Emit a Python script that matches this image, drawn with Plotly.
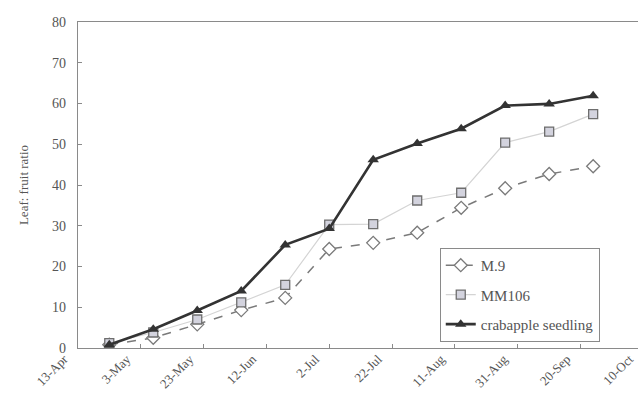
import plotly.graph_objects as go

dates = ["2009-04-23", "2009-05-07", "2009-05-21", "2009-06-04", "2009-06-18", "2009-07-02",
         "2009-07-16", "2009-07-30", "2009-08-13", "2009-08-27", "2009-09-10", "2009-09-24"]
m9 = [0.8, 2.5, 5.8, 9.3, 12.3, 24.3, 25.8, 28.3, 34.4, 39.2, 42.7, 44.6]
mm106 = [1.2, 3.8, 7.0, 11.2, 15.5, 30.3, 30.4, 36.2, 38.1, 50.4, 53.1, 57.4]
crab = [0.8, 4.6, 9.2, 14.0, 25.3, 29.3, 46.2, 50.2, 53.8, 59.5, 59.9, 61.9]

tick_dates = ["2009-04-13", "2009-05-03", "2009-05-23", "2009-06-12", "2009-07-02",
              "2009-07-22", "2009-08-11", "2009-08-31", "2009-09-20", "2009-10-10"]
tick_labels = ["13-Apr", "3-May", "23-May", "12-Jun", "2-Jul", "22-Jul", "11-Aug",
               "31-Aug", "20-Sep", "10-Oct"]

FONT = "Liberation Serif"
TXT = "#555555"
AX = "#8a8a8a"

W = 650
L = 60
PW = W - L
x_range = ["2009-04-13", "2009-10-10 12:00"]

fig = go.Figure()
fig.add_trace(go.Scatter(
    x=dates, y=m9, name="M.9", mode="lines+markers", legendgroup="a",
    line=dict(color="#7a7a7a", width=1.5, dash="dash"),
    marker=dict(symbol="diamond", size=10, color="white", line=dict(color="#7a7a7a", width=1.3)),
))
fig.add_trace(go.Scatter(
    x=dates, y=mm106, name="MM106", mode="lines+markers", legendgroup="b",
    line=dict(color="#d4d4d4", width=1.2),
    marker=dict(symbol="square", size=9, color="#d3d3de", line=dict(color="#6e6e6e", width=1.3)),
))
fig.add_trace(go.Scatter(
    x=dates, y=crab, name="crabapple seedling", mode="lines+markers", legendgroup="c",
    line=dict(color="#333333", width=2.6),
    marker=dict(symbol="triangle-up", size=10, color="#333333"),
))
# carrier for the tick-label axis (invisible)
fig.add_trace(go.Scatter(
    x=tick_dates, y=[0] * len(tick_dates), xaxis="x2", yaxis="y",
    mode="markers", marker=dict(opacity=0, size=1), showlegend=False, hoverinfo="skip",
))

fig.update_layout(
    width=W, height=401,
    margin=dict(l=L, r=0, t=22, b=53),
    paper_bgcolor="white", plot_bgcolor="rgba(0,0,0,0)",
    font=dict(family=FONT, color=TXT, size=13),
    showlegend=True,
    legend=dict(
        x=(443 - L) / PW, y=0.307, xanchor="left", yanchor="top",
        bordercolor="#8a8a8a", borderwidth=1, bgcolor="white",
        font=dict(family=FONT, size=15, color="#555555"),
        traceorder="grouped", tracegroupgap=7,
    ),
    xaxis=dict(
        type="date", range=x_range, domain=[18 / PW, 1], anchor="y",
        tickvals=tick_dates, showticklabels=False,
        ticks="inside", ticklen=4, tickcolor=AX,
        showline=True, linecolor=AX, linewidth=1.3, mirror=True,
        showgrid=False, zeroline=False,
    ),
    xaxis2=dict(
        type="date", range=x_range, domain=[4 / PW, 1 - 14 / PW],
        anchor="y", side="bottom",
        tickvals=tick_dates, ticktext=tick_labels, tickangle=-45,
        ticks="", showline=False, showgrid=False, zeroline=False,
        ticklabeloverflow="allow",
        tickfont=dict(family=FONT, size=13, color=TXT),
    ),
    yaxis=dict(
        range=[0, 80], dtick=10, anchor="x",
        ticks="inside", ticklen=4, tickcolor=AX,
        showline=True, linecolor=AX, linewidth=1.3,
        showgrid=False, zeroline=False,
        ticklabelstandoff=8,
        tickfont=dict(family=FONT, size=14, color=TXT),
        title=dict(text="Leaf: fruit ratio", font=dict(family=FONT, size=13, color=TXT), standoff=20),
    ),
)

fig.write_html("out.html")
